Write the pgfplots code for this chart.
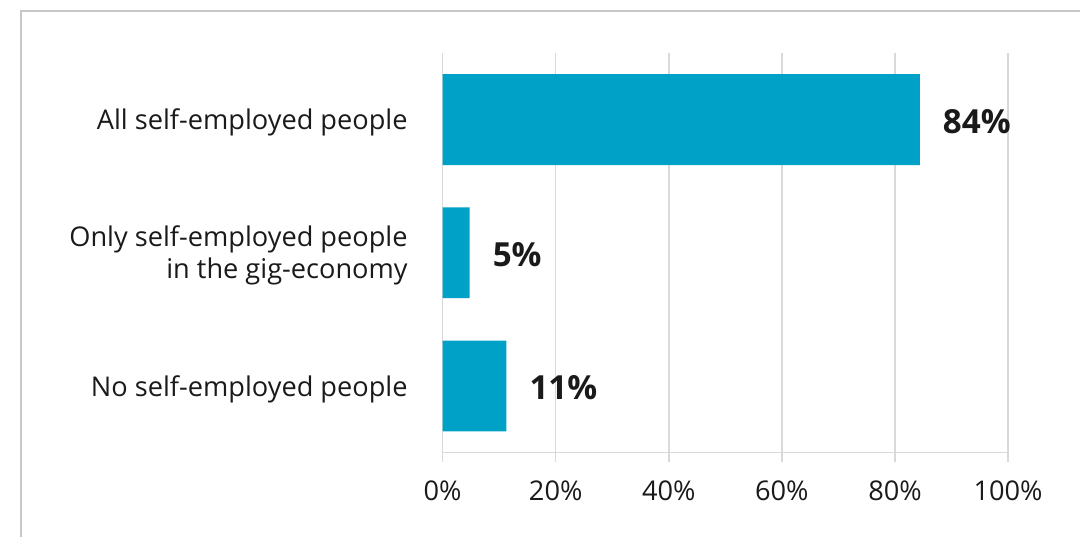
\documentclass[border=0pt]{standalone}
\usepackage{pgfplots}
\pgfplotsset{compat=1.18}
\usepackage{fontspec}
\setmainfont{Open Sans}
\definecolor{barblue}{RGB}{0,161,198}
\definecolor{gridgray}{RGB}{217,217,217}
\definecolor{framegray}{RGB}{200,200,200}
\definecolor{txt}{RGB}{26,26,26}
\begin{document}
\begin{tikzpicture}
% canvas: 1px = 0.5pt
\path (0,0) rectangle (540.5pt,268.5pt);
\draw[framegray, line width=1pt] (10.5pt,0) -- (10.5pt,263.2pt) -- (540.5pt,263.2pt);
\begin{axis}[
    at={(221.5pt,42pt)}, anchor=south west,
    scale only axis,
    width=283pt, height=200pt,
    xbar, bar width=45.5pt,
    xmin=0, xmax=100,
    ymin=-0.5, ymax=2.5,
    xtick={0,20,...,100},
    xticklabel={\pgfmathprintnumber{\tick}\%},
    ytick={0,1,2},
    yticklabels={No self-employed people,{Only self-employed people\\in the gig-economy},All self-employed people},
    yticklabel style={align=right, font=\fontsize{13.6}{16}\selectfont, text=txt, xshift=-9.5pt, yshift=-1.5pt},
    xticklabel style={font=\fontsize{13.6}{14}\selectfont, text=txt, yshift=-6pt},
    /pgf/number format/assume math mode=true,
    xmajorgrids, grid style={gridgray, line width=0.8pt},
    axis x line*=bottom, axis y line*=left,
    x axis line style={gridgray, line width=0.8pt, -},
    y axis line style={draw=none},
    major tick length=4.5pt, tick align=outside,
    xtick style={gridgray, line width=0.8pt},
    ytick style={draw=none},
    nodes near coords={\pgfmathprintnumber[fixed,precision=0]{\pgfplotspointmeta}\%},
    nodes near coords style={font=\fontsize{16.6}{18}\selectfont\bfseries, text=txt, anchor=west, xshift=8pt, yshift=-1pt},
    point meta=x,
  ]
  \addplot[fill=barblue, draw=none] coordinates {
    (11.3,0)
    (4.8,1)
    (84.4,2)
  };
\end{axis}
\end{tikzpicture}
\end{document}
